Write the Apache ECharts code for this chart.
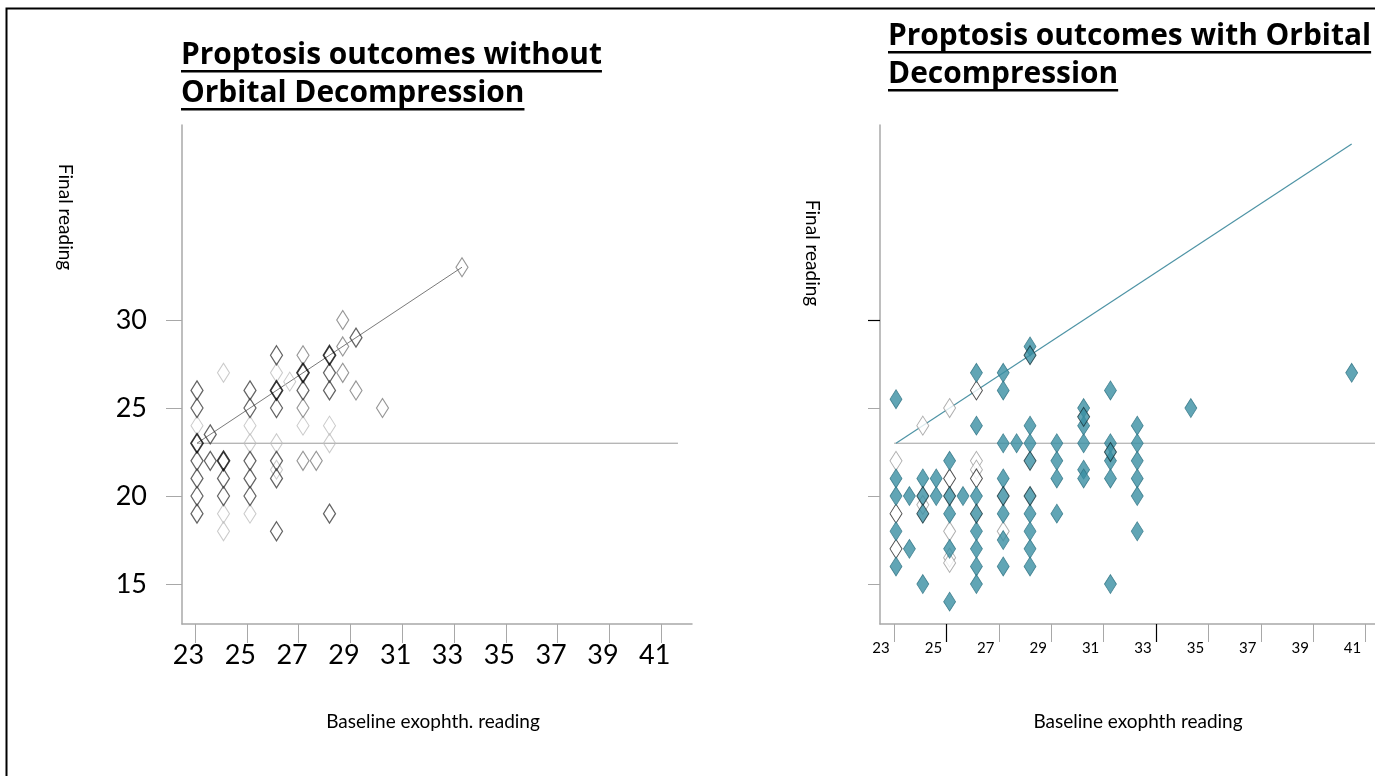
<!DOCTYPE html>
<html><head><meta charset="utf-8">
<script src="https://cdn.jsdelivr.net/npm/echarts@6/dist/echarts.min.js"></script>
<style>html,body{margin:0;padding:0;background:#fff}#c{width:1375px;height:776px}</style>
</head><body><div id="c"></div>
<script>
// ---- tick labels ----
const xTicks = [23, 25, 27, 29, 31, 33, 35, 37, 39, 41];
const yTicks = [15, 20, 25, 30];

// ---- Left chart: without orbital decompression (baseline, final) ----
const leftBlack = [[23,23],[24,22],[26,26],[27,27],[28,28]];
const leftDark = [[23,26],[23,25],[23,22],[23,21],[23,20],[23,19],[23.5,23.5],[23.5,22],[24,21],[24,20],
  [25,26],[25,25],[25,22],[25,21],[25,20],[26,28],[26,25],[26,22],[26,21],[26,18],[27,26],[28,27],[28,26],[28,19],[29,29]];
const leftGrey = [[27,28],[27,25],[27,22],[27.5,22],[28.5,30],[28.5,28.5],[28.5,27],[29,26],[30,25],[33,33]];
const leftLight = [[23,24],[24,27],[24,19],[24,18],[25,24],[25,23],[25,19],[26,27],[26,23],[26,21.5],[26.5,26.5],[27,24],[28,24],[28,23]];
const leftIdentity = [[23,23],[33,33]];
const leftReference = [[23,23],[41.15,23]];

// ---- Right chart: with orbital decompression ----
const rightTeal = [[23,25.5],[26,27],[27,27],[27,26],[28,28.5],[26,24],[28,24],[27,23],[27.5,23],[28,23],[29,23],[30,23],[31,23],[32,23],
  [25,22],[29,22],[23,21],[24,21],[24.5,21],[27,21],[29,21],[23,20],[23.5,20],[24.5,20],[25.5,20],[26,20],
  [25,19],[27,19],[28,19],[29,19],[23,18],[26,18],[28,18],[27,17.5],[23.5,17],[25,17],[26,17],[28,17],
  [23,16],[26,16],[27,16],[28,16],[24,15],[26,15],[25,14],[31,26],[30,25],[30,24],[34,25],[32,24],
  [31,22],[32,22],[30,21.5],[30,21],[31,21],[32,21],[32,20],[32,18],[31,15],[40,27]];
const rightTealDark = [[28,28],[28,22],[24,20],[25,20],[27,20],[28,20],[24,19],[26,19],[30,24.5],[31,22.5]];
const rightWhiteDark = [[26,26],[25,21],[26,21],[23,19],[23,17]];
const rightWhiteLight = [[24,24],[25,25],[23,22],[26,22],[26,21.5],[24,19.5],[25,18],[27,18],[25,16.5],[25,16.2]];
const rightIdentity = [[23,23],[40,40]];
const rightReference = [[22.93,23],[40.87,23]];

const FONT = 'Lato, "Open Sans", sans-serif';
const chart = echarts.init(document.getElementById('c'), null, {renderer: 'canvas'});

function textW(t, font) {
  const c = document.createElement('canvas').getContext('2d');
  c.font = font; return c.measureText(t).width;
}
// fit title font so the first line spans the same width as in the slide
const TF = '"Open Sans"';
const titleSize = Math.round(30 * 421 / textW('Proptosis outcomes without', 'bold 30px ' + TF) * 10) / 10;
const titleFont = 'bold ' + titleSize + 'px ' + TF;
function titleLine(text, x, baseline) {
  const w = textW(text, titleFont);
  return [
    {type: 'text', x: x, y: baseline - titleSize * 0.36, style: {text: text, font: titleFont, fill: '#000', textAlign: 'left', textVerticalAlign: 'middle'}},
    {type: 'rect', shape: {x: x, y: baseline + 4, width: w, height: 2.5}, style: {fill: '#000'}}
  ];
}

const gray = '#a8a8a8';
function outlineScatter(data, border, bw) {
  return {type: 'scatter', xAxisIndex: 1, yAxisIndex: 0, data: data, symbol: 'diamond', symbolSize: [12, 19],
    itemStyle: {color: 'rgba(255,255,255,0)', borderColor: border, borderWidth: bw}, z: 3};
}
function rightScatter(data, fill, border, bw) {
  return {type: 'scatter', xAxisIndex: 3, yAxisIndex: 1, data: data, symbol: 'diamond', symbolSize: [12, 19],
    itemStyle: {color: fill, borderColor: border, borderWidth: bw}, z: 3};
}

const option = {
  animation: false,
  backgroundColor: '#fff',
  grid: [
    {left: 182, top: 125, width: 510, height: 499},
    {left: 880, top: 125, width: 495, height: 499}
  ],
  xAxis: [
    {gridIndex: 0, type: 'value', position: 'bottom', min: 22.498, max: 42.19,
      axisLine: {show: true, lineStyle: {color: gray, width: 1.5}},
      axisTick: {show: true, customValues: xTicks, length: 19, lineStyle: {color: gray, width: 1}},
      axisLabel: {show: true, customValues: xTicks, fontSize: 27, fontFamily: FONT, color: '#000', margin: 18, padding: [0, 13, 0, 0]},
      splitLine: {show: false}},
    {gridIndex: 0, type: 'value', position: 'bottom', min: 22.434, max: 41.68, show: false},
    {gridIndex: 1, type: 'value', position: 'bottom', min: 22.466, max: 41.36,
      axisLine: {show: true, lineStyle: {color: gray, width: 1.5}},
      axisTick: {show: true, customValues: xTicks, length: 18, lineStyle: {color: gray, width: 1}},
      axisLabel: {show: true, customValues: xTicks, fontSize: 15, fontFamily: FONT, color: '#000', margin: 17, padding: [0, 26, 0, 0]},
      splitLine: {show: false}},
    {gridIndex: 1, type: 'value', position: 'bottom', min: 22.403, max: 40.87, show: false},
    {gridIndex: 1, type: 'value', position: 'bottom', offset: 0, min: 22.466, max: 41.36,
      axisLine: {show: false},
      axisTick: {show: true, customValues: [25, 33], length: 18, lineStyle: {color: '#000', width: 1.2}},
      axisLabel: {show: false}, splitLine: {show: false}}
  ],
  yAxis: [
    {gridIndex: 0, type: 'value', position: 'left', min: 12.73, max: 41.08,
      axisLine: {show: true, lineStyle: {color: gray, width: 1.5}},
      axisTick: {show: true, customValues: yTicks, length: 16, lineStyle: {color: gray, width: 1}},
      axisLabel: {show: true, customValues: yTicks, fontSize: 27, fontFamily: FONT, color: '#000', margin: 35},
      splitLine: {show: false}},
    {gridIndex: 1, type: 'value', position: 'left', min: 12.73, max: 41.08,
      axisLine: {show: true, lineStyle: {color: gray, width: 1.5}},
      axisTick: {show: true, customValues: yTicks, length: 12, lineStyle: {color: gray, width: 1}},
      axisLabel: {show: false}, splitLine: {show: false}},
    {gridIndex: 1, type: 'value', position: 'left', offset: 0, min: 12.73, max: 41.08,
      axisLine: {show: false},
      axisTick: {show: true, customValues: [30], length: 12, lineStyle: {color: '#000', width: 1.2}},
      axisLabel: {show: false}, splitLine: {show: false}}
  ],
  series: [
    {type: 'line', xAxisIndex: 1, yAxisIndex: 0, data: leftReference, symbol: 'none', lineStyle: {color: '#9a9a9a', width: 1}, z: 1},
    {type: 'line', xAxisIndex: 1, yAxisIndex: 0, data: leftIdentity, symbol: 'none', lineStyle: {color: '#7a7a7a', width: 1}, z: 1},
    outlineScatter(leftLight, '#bdbdbd', 1.1),
    outlineScatter(leftGrey, '#7c7c7c', 1.2),
    outlineScatter(leftDark, '#3c3c3c', 1.3),
    outlineScatter(leftBlack, '#000000', 1.8),
    {type: 'line', xAxisIndex: 3, yAxisIndex: 1, data: rightReference, symbol: 'none', lineStyle: {color: '#a0a0a0', width: 1}, z: 1},
    {type: 'line', xAxisIndex: 3, yAxisIndex: 1, data: rightIdentity, symbol: 'none', lineStyle: {color: '#4d93a5', width: 1.2}, z: 1},
    rightScatter(rightWhiteLight, '#ffffff', '#9a9a9a', 1),
    rightScatter(rightWhiteDark, '#ffffff', '#222222', 1),
    rightScatter(rightTeal, '#3a8fa3', '#2c6f80', 0.8),
    rightScatter(rightTealDark, '#3a8fa3', '#152f36', 1)
  ],
  graphic: [
    {type: 'rect', shape: {x: 6.5, y: 8.5, width: 1400, height: 800}, style: {fill: null, stroke: '#000', lineWidth: 2}},
    ...titleLine('Proptosis outcomes without', 181, 66),
    ...titleLine('Orbital Decompression', 181, 104),
    ...titleLine('Proptosis outcomes with Orbital', 888, 47),
    ...titleLine('Decompression', 888, 85),
    {type: 'text', x: 65, y: 217, rotation: -Math.PI / 2, style: {text: 'Final reading', font: '19px Lato', fill: '#000', textAlign: 'center', textVerticalAlign: 'middle'}},
    {type: 'text', x: 812, y: 253, rotation: -Math.PI / 2, style: {text: 'Final reading', font: '19px Lato', fill: '#000', textAlign: 'center', textVerticalAlign: 'middle'}},
    {type: 'text', x: 433, y: 722, style: {text: 'Baseline exophth. reading', font: '19px Lato', fill: '#000', textAlign: 'center', textVerticalAlign: 'middle'}},
    {type: 'text', x: 1138, y: 722, style: {text: 'Baseline exophth reading', font: '19px Lato', fill: '#000', textAlign: 'center', textVerticalAlign: 'middle'}}
  ]
};
chart.setOption(option);
</script>
</body></html>
